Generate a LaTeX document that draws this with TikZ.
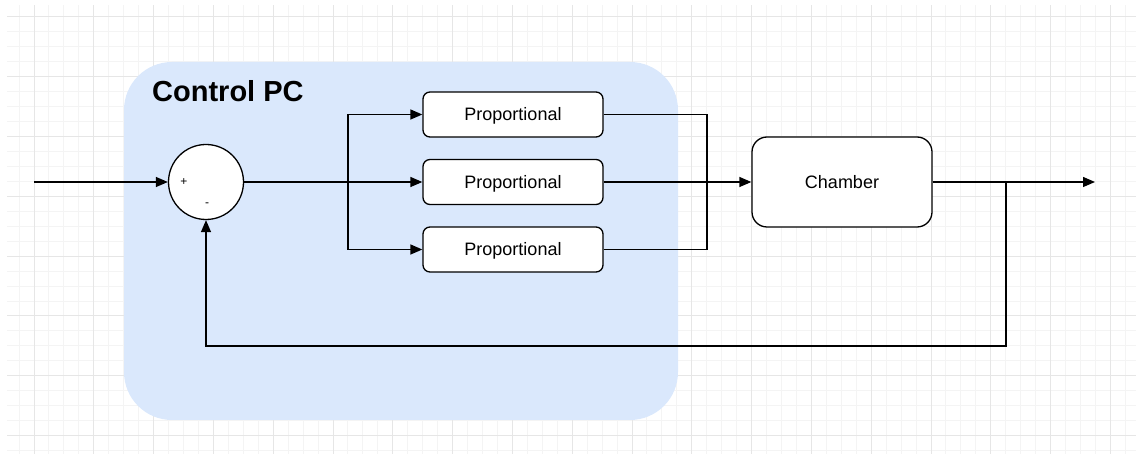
\documentclass[tikz,border=0pt]{standalone}
\usepackage{fontspec}
\setmainfont{Liberation Sans}
\usetikzlibrary{arrows.meta}
\definecolor{panelblue}{HTML}{DAE8FC}
\definecolor{gridmajor}{HTML}{E6E6E6}
\definecolor{gridminor}{HTML}{F4F4F4}
\tikzset{
  block/.style={draw, line width=1.3pt, fill=white, rounded corners=7pt,
    minimum width=180pt, minimum height=45pt, inner sep=0pt,
    text height=12.9pt, text depth=0pt,
    font=\fontsize{18}{20}\selectfont},
  wire/.style={line width=1.3pt},
  >={Triangle[length=12pt,width=10pt]}
}
\begin{document}
\begin{tikzpicture}[x=1pt,y=-1pt]
  \useasboundingbox (0,0) rectangle (1136,454);
  % background grid
  \begin{scope}
    \clip (7,6) rectangle (1136,454);
    \foreach \i in {-2,...,74}
      \draw[gridminor, line width=1pt] ({34+14.95*\i},0) -- ({34+14.95*\i},454);
    \foreach \j in {-1,...,29}
      \draw[gridminor, line width=1pt] (0,{17+14.95*\j}) -- (1136,{17+14.95*\j});
    \foreach \i in {0,...,18}
      \draw[gridmajor, line width=1pt] ({34+59.8*\i},0) -- ({34+59.8*\i},454);
    \foreach \j in {0,...,7}
      \draw[gridmajor, line width=1pt] (0,{17+59.8*\j}) -- (1136,{17+59.8*\j});
  \end{scope}
  % controller panel
  \fill[panelblue, rounded corners=48pt] (124,62) rectangle (678,420);
  \node[anchor=base west, inner sep=0pt, font=\bfseries\fontsize{29}{32}\selectfont]
    (title) at (152,102) {Control PC};
  \node[draw, circle, fill=white, line width=1.3pt, minimum size=75pt, inner sep=0pt]
    (sum) at (206,182) {};
  \node[inner sep=0pt, font=\fontsize{12}{12}\selectfont] (plus) at (184,182) {+};
  \node[inner sep=0pt, font=\fontsize{12}{12}\selectfont] (minus) at (207,205) {-};
  \node[block] (pone) at (513,114.5) {Proportional};
  \node[block] (ptwo) at (513,182) {Proportional};
  \node[block] (pthree) at (513,249.5) {Proportional};
  \node[block, minimum height=90pt, rounded corners=15pt] (chamber) at (842,182) {Chamber};
  \coordinate (input) at (34,182);
  \coordinate (split) at (348,182);
  \coordinate (merge) at (707,182);
  \coordinate (tap) at (1006,182);
  \coordinate (output) at (1095,182);
  \coordinate (back) at (1006,346);
  % connectors
  \draw[wire,->] (input) -- (sum);
  \draw[wire] (sum) -- (split);
  \draw[wire,->] (split) |- (pone);
  \draw[wire,->] (split) -- (ptwo);
  \draw[wire,->] (split) |- (pthree);
  \draw[wire] (pone) -| (merge);
  \draw[wire] (pthree) -| (merge);
  \draw[wire,->] (ptwo) -- (chamber);
  \draw[wire,->] (chamber) -- (output);
  \draw[wire,->] (tap) -- (back) -| (sum);
\end{tikzpicture}
\end{document}
